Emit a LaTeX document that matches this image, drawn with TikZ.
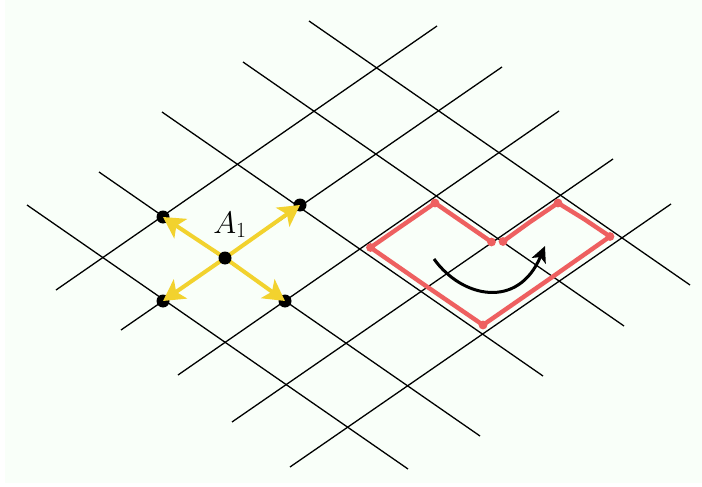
\documentclass[tikz,border=0pt]{standalone}
\usetikzlibrary{arrows.meta}
\definecolor{paper}{HTML}{F9FFF9}
\definecolor{gold}{HTML}{F2D22E}
\definecolor{coral}{HTML}{EE6060}
\tikzset{
  gridline/.style={black,line width=1.3pt},
  latticedot/.style={circle,fill=black,inner sep=0pt,minimum size=13pt},
  yellowarrow/.style={gold,line width=4pt,-{Stealth[length=21pt,width=23pt,inset=5pt]}},
  redloop/.style={coral,line width=4.4pt,line cap=round,line join=round},
  turnarrow/.style={black,line width=3pt,-{Stealth[length=16pt,width=15pt,inset=4pt]}}
}
\begin{document}
\begin{tikzpicture}[x=1pt,y=-1pt]
\useasboundingbox (0,0) rectangle (702,487);
\fill[white] (0,0) rectangle (702,487);
\fill[paper] (5,0) rectangle (702,483);
% NW-SE grid lines
\coordinate (a1) at (309,21);  \coordinate (b1) at (690,285);
\coordinate (a2) at (243,62);  \coordinate (b2) at (624,326);
\coordinate (a3) at (162,112); \coordinate (b3) at (543,376);
\coordinate (a4) at (99,172);  \coordinate (b4) at (480,436);
\coordinate (a5) at (27,205);  \coordinate (b5) at (408,469);
% SW-NE grid lines
\coordinate (c1) at (56,290);  \coordinate (d1) at (437,26);
\coordinate (c2) at (121,330); \coordinate (d2) at (502,67);
\coordinate (c3) at (178,375); \coordinate (d3) at (559,111);
\coordinate (c4) at (232,422); \coordinate (d4) at (613,159);
\coordinate (c5) at (290,467); \coordinate (d5) at (671,204);
\foreach \i in {1,...,5}{
  \draw[gridline] (a\i) -- (b\i);
  \draw[gridline] (c\i) -- (d\i);
}
% red loop
\coordinate (r1) at (491.5,242);
\coordinate (r2) at (435,203);
\coordinate (r3) at (370.5,247.5);
\coordinate (r4) at (483,325);
\coordinate (r5) at (610,236.5);
\coordinate (r6) at (558,203);
\coordinate (r7) at (503,241.5);
\draw[redloop] (r1) -- (464,223) -- (r2) -- (403,225) -- (r3) -- (426,286) -- (r4)
  -- (548,280) -- (r5) -- (584,219) -- (r6) -- (530,222) -- (r7);
\foreach \p in {r1,r7,r2,r3,r4,r5,r6}{\fill[coral] (\p) circle (4.4pt);}
% turning arrow
\coordinate (t1) at (434,259);
\coordinate (t2) at (545,246);
\draw[turnarrow] (t1) .. controls (462,298) and (518,310) .. (t2);
% dots
\node[latticedot] (nw) at (163,217) {};
\node[latticedot] (ne) at (300,205) {};
\node[latticedot] (sw) at (163,301) {};
\node[latticedot] (se) at (285,301) {};
\coordinate (origin) at (225,258);
\draw[yellowarrow] (origin) -- (nw.center);
\draw[yellowarrow] (origin) -- (ne.center);
\draw[yellowarrow] (origin) -- (sw.center);
\draw[yellowarrow] (origin) -- (se.center);
\node[latticedot] (ctr) at (origin) {};
\node[inner sep=0pt,scale=1.25] (lbl) at (230,225) {\fontsize{24}{24}\selectfont $A_1$};
\end{tikzpicture}
\end{document}
